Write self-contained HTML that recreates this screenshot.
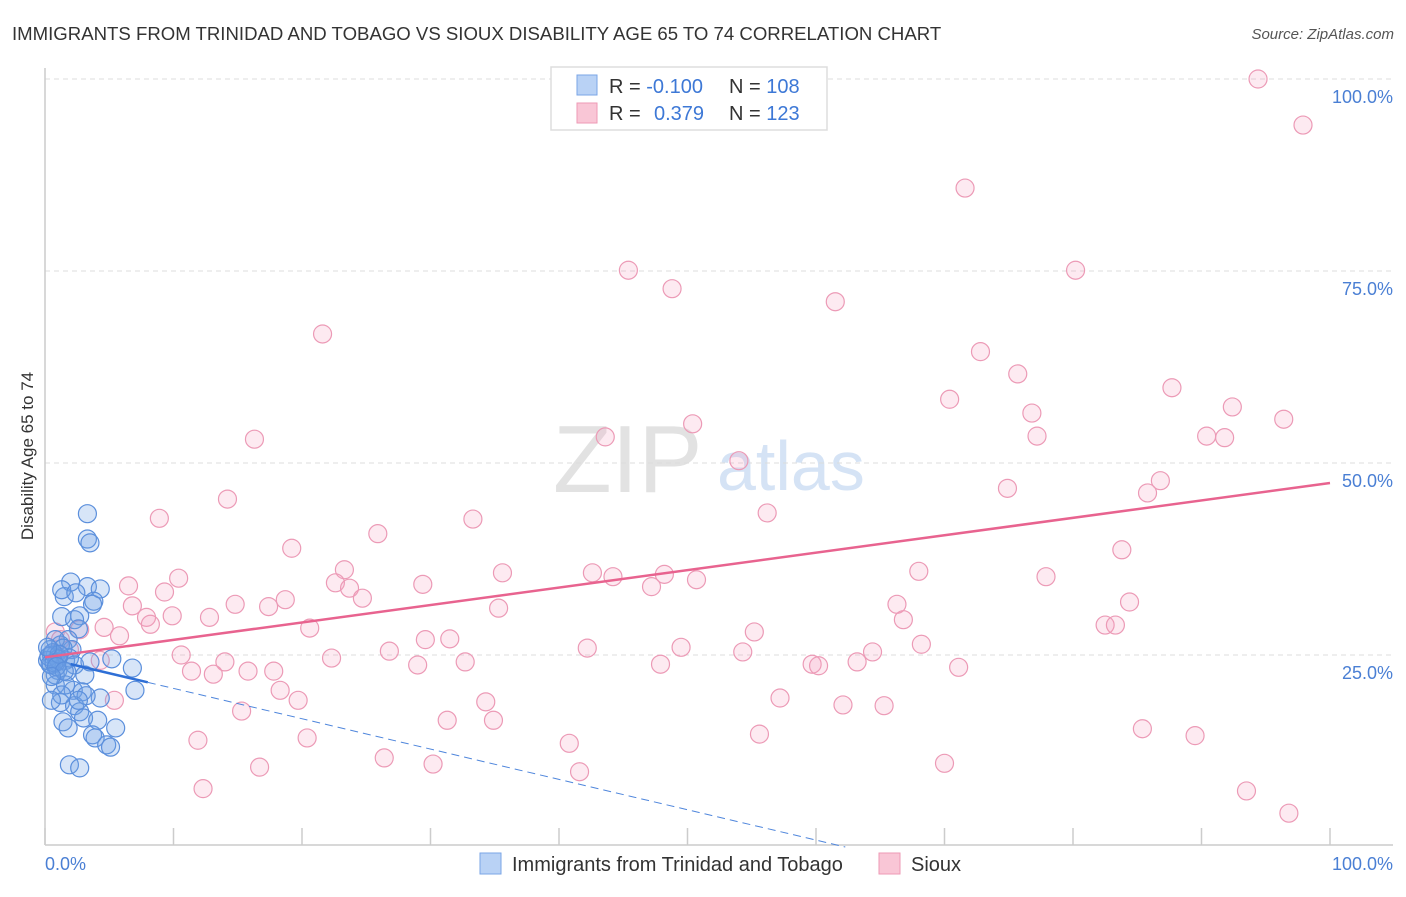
<!DOCTYPE html>
<html><head><meta charset="utf-8"><style>
body{margin:0;background:#fff;font-family:"Liberation Sans",sans-serif;}
svg text{font-family:"Liberation Sans",sans-serif;}
</style></head><body>
<svg id="chart" width="1406" height="892" viewBox="0 0 1406 892" xmlns="http://www.w3.org/2000/svg">
<text x="12" y="40" font-size="18.6" fill="#333">IMMIGRANTS FROM TRINIDAD AND TOBAGO VS SIOUX DISABILITY AGE 65 TO 74 CORRELATION CHART</text>
<text x="1394" y="39" font-size="15" fill="#555" font-style="italic" text-anchor="end">Source: ZipAtlas.com</text>
<text transform="translate(33,456) rotate(-90)" font-size="17" fill="#333" text-anchor="middle">Disability Age 65 to 74</text>
<g>
<text x="553" y="492" font-size="96" font-family="Liberation Serif,serif" fill="#e2e2e2">ZIP</text>
<text x="717" y="490" font-size="70" fill="#d5e3f5">atlas</text>
</g>
<g id="grid"></g>
<g id="axes"></g>
<g id="pink"></g>
<g id="blue"></g>
<g id="trends"></g>
<g>
<rect x="551" y="67" width="276" height="63" fill="#fff" stroke="#ddd" stroke-width="1.5"/>
<rect x="577" y="75" width="20" height="20" fill="#b9d2f5" stroke="#7aa5e6"/>
<rect x="577" y="103" width="20" height="20" fill="#f9c6d6" stroke="#ee9ab5"/>
<text x="609" y="93" font-size="20" fill="#333">R = <tspan fill="#3d78d6">-0.100</tspan></text>
<text x="729" y="93" font-size="20" fill="#333">N = <tspan fill="#3d78d6">108</tspan></text>
<text x="609" y="120" font-size="20" fill="#333">R = </text>
<text x="654" y="120" font-size="20" fill="#3d78d6">0.379</text>
<text x="729" y="120" font-size="20" fill="#333">N = <tspan fill="#3d78d6">123</tspan></text>
</g>
<g>
<rect x="480" y="853" width="21" height="21" fill="#b9d2f5" stroke="#7aa5e6"/>
<text x="512" y="871" font-size="20" fill="#333">Immigrants from Trinidad and Tobago</text>
<rect x="879" y="853" width="21" height="21" fill="#f9c6d6" stroke="#ee9ab5"/>
<text x="911" y="871" font-size="20" fill="#333">Sioux</text>
</g>
</svg>
<script>
const yTicks=[25,50,75,100];
const yTickLabels=["25.0%","50.0%","75.0%","100.0%"];
const xTicks=[0,10,20,30,40,50,60,70,80,90,100];
const xLabels=["0.0%","100.0%"];
const blueX=[3.3,3.3,3.5,2.0,3.3,4.3,1.5,3.8,3.7,2.7,1.3,2.3,2.6,1.8,2.1,1.2,0.8,1.6,0.5,0.4,1.0,2.3,5.2,6.8,1.7,3.1,0.8,2.2,2.9,4.3,7.0,1.2,2.3,2.7,3.0,1.4,1.8,4.1,5.5,3.7,3.9,4.8,5.1,1.9,2.7,1.3,2.4,0.8,0.5,1.4,0.9,0.2,1.9,3.5,0.8,1.6,1.3,3.2,2.6,0.5,0.3,0.6,1.0,0.4,0.7,1.1,0.2,0.9,1.5,0.5];
const blueY=[43.4,40.1,39.6,34.5,33.9,33.6,32.6,32.0,31.6,30.1,30.0,29.6,28.4,27.0,25.7,26.3,25.0,24.3,23.7,25.7,23.0,23.7,24.5,23.3,22.8,22.4,21.1,20.4,20.2,19.4,20.4,18.8,18.4,17.6,16.8,16.3,15.5,16.5,15.5,14.6,14.2,13.3,13.0,10.7,10.3,33.5,33.1,27.0,25.0,25.9,24.1,24.3,24.6,24.1,22.4,21.1,19.8,19.7,19.1,19.1,24.8,25.3,24.5,23.8,24.0,25.1,26.0,23.5,22.9,22.2];
const pinkX=[94.4,97.9,71.6,45.4,80.2,48.8,61.5,21.6,72.8,75.7,87.7,70.4,76.8,92.4,96.4,50.4,16.3,43.6,77.2,90.4,91.8,54.0,86.8,74.9,85.8,14.2,56.2,8.9,33.3,25.9,19.2,83.8,68.0,23.3,35.6,10.4,6.5,42.6,44.2,48.2,77.9,50.7,29.4,22.6,23.7,9.3,47.2,24.7,18.7,14.8,6.8,84.4,66.3,17.4,35.3,7.9,9.9,12.8,66.8,8.2,20.6,82.5,83.3,4.6,2.7,0.8,5.8,55.2,29.6,31.5,68.2,42.2,26.8,49.5,10.6,64.4,54.3,22.3,14.0,32.7,59.7,29.0,63.2,47.9,15.8,60.2,71.1,17.8,11.4,13.1,4.3,18.3,57.2,34.3,19.7,15.3,62.1,65.3,31.3,34.9,85.4,11.9,20.4,55.6,40.8,89.5,26.4,16.7,30.2,70.0,41.6,12.3,93.5,96.8,5.4,1.2,1.9];
const pinkY=[100,94.0,85.8,75.1,75.1,72.7,71.0,66.8,64.5,61.6,59.8,58.3,56.5,57.3,55.7,55.1,53.1,53.4,53.5,53.5,53.3,50.3,47.7,46.7,46.1,45.3,43.5,42.8,42.7,40.8,38.9,38.7,35.9,36.1,35.7,35.0,34.0,35.7,35.2,35.5,35.2,34.8,34.2,34.4,33.7,33.2,33.9,32.4,32.2,31.6,31.4,31.9,31.6,31.3,31.1,29.9,30.1,29.9,29.6,29.0,28.5,28.9,28.9,28.6,28.3,28.0,27.5,28.0,27.0,27.1,26.4,25.9,25.5,26.0,25.0,25.4,25.4,24.6,24.1,24.1,23.8,23.7,24.1,23.8,22.9,23.6,23.4,22.9,22.9,22.5,24.3,20.4,19.4,18.9,19.1,17.7,18.5,18.4,16.5,16.5,15.4,13.9,14.2,14.7,13.5,14.5,11.6,10.4,10.8,10.9,9.8,7.6,7.3,4.4,19.1,27.0,25.7];
const blueTrend=[24.6,-0.395];
const pinkTrend=[24.7,0.227];
const NS="http://www.w3.org/2000/svg";
const X0=45,X1=1330,Y0=847,Y100=79;
function sx(v){return X0+(X1-X0)*v/100;}
function sy(v){return Y0-(Y0-Y100)*v/100;}
function mk(tag,attrs,parent){const e=document.createElementNS(NS,tag);for(const k in attrs)e.setAttribute(k,attrs[k]);document.getElementById(parent).appendChild(e);return e;}
yTicks.forEach((t,i)=>{
  const g=mk('line',{x1:45,x2:1393,y1:sy(t),y2:sy(t),stroke:'#dcdcdc','stroke-dasharray':'5,4'},'grid');
  
  
  const l=mk('text',{x:1393,y:sy(t)+24,'font-size':18,fill:'#4a7fd4','text-anchor':'end'},'grid');
  l.textContent=yTickLabels[i];
  
  
});
const ax=mk('line',{x1:45,x2:45,y1:68,y2:845,stroke:'#ccc','stroke-width':1.5},'axes');


const bx=mk('line',{x1:45,x2:1393,y1:845,y2:845,stroke:'#ccc','stroke-width':1.5},'axes');


xTicks.forEach(t=>{
  const e=mk('line',{x1:sx(t),x2:sx(t),y1:828,y2:845,stroke:'#ccc','stroke-width':1.5},'axes');
  
  
});
const xl0=mk('text',{x:45,y:870,'font-size':18,fill:'#4a7fd4'},'axes');xl0.textContent=xLabels[0];


const xl1=mk('text',{x:1393,y:870,'font-size':18,fill:'#4a7fd4','text-anchor':'end'},'axes');xl1.textContent=xLabels[1];


pinkX.forEach((v,i)=>{
  const c=mk('circle',{cx:sx(v),cy:sy(pinkY[i]),r:9,fill:'rgba(244,160,190,0.22)',stroke:'#ec9ab6','stroke-width':1.2},'pink');
  
  
});
blueX.forEach((v,i)=>{
  const c=mk('circle',{cx:sx(v),cy:sy(blueY[i]),r:9,fill:'rgba(110,160,230,0.28)',stroke:'#5b8fdc','stroke-width':1.2},'blue');
  
  
});
const pt=mk('line',{x1:sx(0),y1:sy(pinkTrend[0]),x2:sx(100),y2:sy(pinkTrend[0]+pinkTrend[1]*100),stroke:'#e8638f','stroke-width':2.5},'trends');


const bt=mk('line',{x1:sx(2),y1:sy(blueTrend[0]+blueTrend[1]*2),x2:sx(8),y2:sy(blueTrend[0]+blueTrend[1]*8),stroke:'#2e6fd6','stroke-width':2.5},'trends');


const xe=-blueTrend[0]/blueTrend[1];
const bd=mk('line',{x1:sx(8),y1:sy(blueTrend[0]+blueTrend[1]*8),x2:sx(xe),y2:sy(0),stroke:'#4f86dc','stroke-width':1,'stroke-dasharray':'8,5'},'trends');


</script>
</body></html>
